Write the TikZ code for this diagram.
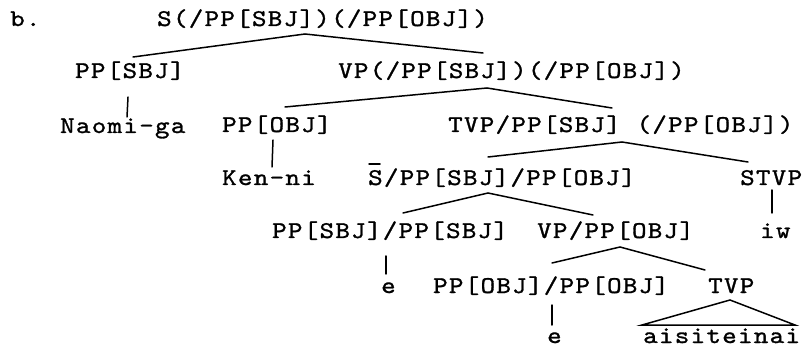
\documentclass[tikz,border=0pt]{standalone}
\usepackage{fontspec}
\setmonofont[FakeStretch=1.15,FakeBold=1.2,LetterSpace=5.5]{lmmono10-regular.otf}
\begin{document}
\begin{tikzpicture}[x=1pt,y=-1pt,
  lbl/.style={anchor=base west,inner sep=0pt,font=\ttfamily\fontsize{24}{28}\selectfont},
  edge/.style={line width=1.5pt,line cap=round}]
\useasboundingbox (0,0) rectangle (808,347);
% labels
\node[lbl] (b) at (10,26) {b.};
\node[lbl] (S) at (157,26) {S(/PP[SBJ])(/PP[OBJ])};
\node[lbl] (ppsbj) at (75,78) {PP[SBJ]};
\node[lbl] (vp) at (338,78) {VP(/PP[SBJ])(/PP[OBJ])};
\node[lbl] (naomi) at (60,133) {Naomi-ga};
\node[lbl] (ppobj) at (222,132) {PP[OBJ]};
\node[lbl] (tvp) at (448,132) {TVP/PP[SBJ] (/PP[OBJ])};
\node[lbl] (ken) at (222,185) {Ken-ni};
\node[lbl] (sbar) at (368,185) {S/PP[SBJ]/PP[OBJ]};
\node[lbl] (stvp) at (740,185) {STVP};
\node[lbl] (ppss) at (272,238) {PP[SBJ]/PP[SBJ]};
\node[lbl] (vpobj) at (537,238) {VP/PP[OBJ]};
\node[lbl] (iw) at (760,238) {iw};
\node[lbl] (e1) at (381,293) {e};
\node[lbl] (ppoo) at (433,293) {PP[OBJ]/PP[OBJ]};
\node[lbl] (tvpb) at (708,293) {TVP};
\node[lbl] (e2) at (547,343) {e};
\node[lbl] (ai) at (643,343) {aisiteinai};
% connector points
\coordinate (S-ap) at (305,34);
\coordinate (S-l) at (133,57);
\coordinate (S-r) at (483,53);
\coordinate (VP-ap) at (487,88);
\coordinate (VP-l) at (285,107);
\coordinate (VP-r) at (612,108);
\coordinate (ppsbj-t) at (128,97);
\coordinate (naomi-t) at (127,117);
\coordinate (ppobj-t) at (273,140);
\coordinate (ken-t) at (272,167);
\coordinate (TVP-ap) at (622,142);
\coordinate (TVP-l) at (488,157);
\coordinate (TVP-r) at (748,162);
\coordinate (sbar-ap) at (488,193);
\coordinate (sbar-l) at (403,213);
\coordinate (sbar-r) at (593,215);
\coordinate (sbar-b1) at (369,164);
\coordinate (sbar-b2) at (380,164);
\coordinate (stvp-t) at (772,190);
\coordinate (iw-t) at (772,213);
\coordinate (ppss-t) at (386,256);
\coordinate (e1-t) at (386,274);
\coordinate (vpobj-ap) at (620,247);
\coordinate (vpobj-l) at (552,263);
\coordinate (vpobj-r) at (705,270);
\coordinate (ppoo-t) at (552,305);
\coordinate (e2-t) at (552,325);
\coordinate (tri-ap) at (730,300);
\coordinate (tri-l) at (642,325);
\coordinate (tri-r) at (795,325);
% connectors
\draw[edge] (S-l) -- (S-ap) -- (S-r);
\draw[edge] (VP-l) -- (VP-ap) -- (VP-r);
\draw[edge] (ppsbj-t) -- (naomi-t);
\draw[edge] (ppobj-t) -- (ken-t);
\draw[edge] (TVP-l) -- (TVP-ap) -- (TVP-r);
\draw[edge] (sbar-b1) -- (sbar-b2);
\draw[edge] (sbar-l) -- (sbar-ap) -- (sbar-r);
\draw[edge] (stvp-t) -- (iw-t);
\draw[edge] (ppss-t) -- (e1-t);
\draw[edge] (vpobj-l) -- (vpobj-ap) -- (vpobj-r);
\draw[edge] (ppoo-t) -- (e2-t);
\draw[edge] (tri-l) -- (tri-ap) -- (tri-r) -- cycle;
\end{tikzpicture}
\end{document}
